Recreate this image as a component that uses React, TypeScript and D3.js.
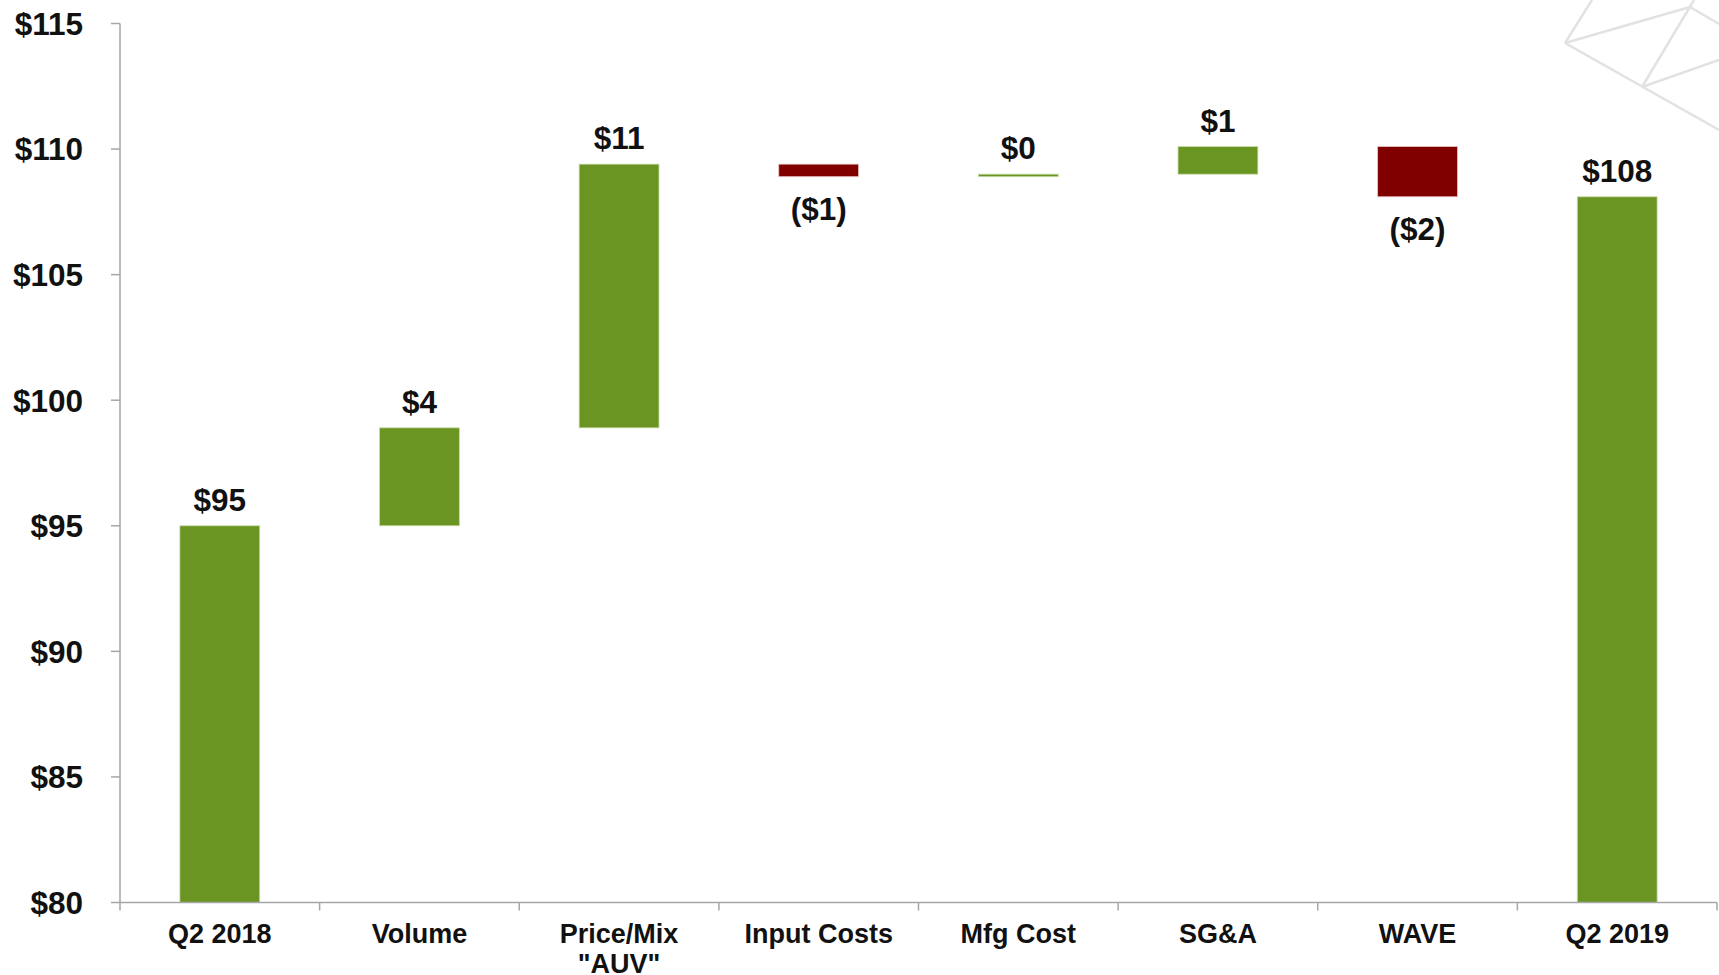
import { useEffect } from 'react';
import * as d3 from 'd3';

const categories = ['Q2 2018', 'Volume', 'Price/Mix\n"AUV"', 'Input Costs', 'Mfg Cost', 'SG&A', 'WAVE', 'Q2 2019'];
const kinds = ['total', 'delta', 'delta', 'delta', 'delta', 'delta', 'delta', 'total'];
const values = [95, 3.9, 10.5, -0.5, 0.1, 1.1, -2.0, 108.1];
const valueLabels = ['$95', '$4', '$11', '($1)', '$0', '$1', '($2)', '$108'];
const yTicks = [80, 85, 90, 95, 100, 105, 110, 115];

const W = 1719;
const H = 975;
const GREEN = '#6a9523';
const RED = '#800000';
const FONT = '"Liberation Sans", Arial, Helvetica, sans-serif';

// faint watermark in the top-right corner (decoration only)
const deco: [number, number, number, number][] = [
  [1565, 43, 1690, 7],
  [1565, 43, 1592, 0],
  [1565, 43, 1719, 130],
  [1642, 87, 1694, 0],
  [1642, 87, 1719, 60],
  [1690, 7, 1719, 24],
];

export default function App() {
  useEffect(() => {
    document.body.style.margin = '0';
  }, []);

  const x = d3.scaleBand<string>().domain(categories).range([120, 1717]).paddingInner(0.6).paddingOuter(0.3);
  const y = d3.scaleLinear().domain([80, 115]).range([902.5, 23.5]);

  // compute waterfall spans
  let running = 0;
  const bars = categories.map((c, i) => {
    let lo: number, hi: number;
    if (kinds[i] === 'total') {
      lo = 80;
      hi = values[i];
      running = values[i];
    } else {
      const start = running;
      running = start + values[i];
      lo = Math.min(start, running);
      hi = Math.max(start, running);
    }
    return { c, lo, hi, v: values[i], label: valueLabels[i], neg: values[i] < 0 };
  });

  const step = x.step();
  const x0 = 120;
  const x1 = 1717;
  const boundaries = d3.range(categories.length + 1).map((i) => x0 + i * step);

  return (
    <svg width={W} height={H} style={{ display: 'block', background: '#fff' }} fontFamily={FONT}>
      <g stroke="#e2e2e2" strokeWidth={2.5} fill="none">
        {deco.map((d, i) => (
          <line key={i} x1={d[0]} y1={d[1]} x2={d[2]} y2={d[3]} />
        ))}
      </g>

      {/* y axis */}
      <line x1={x0} x2={x0} y1={y(115)} y2={y(80)} stroke="#a6a6a6" strokeWidth={1.5} />
      {yTicks.map((t) => (
        <g key={t}>
          <line x1={x0 - 9} x2={x0} y1={y(t)} y2={y(t)} stroke="#a6a6a6" strokeWidth={1.5} />
          <text x={83} y={y(t)} dy="0.36em" textAnchor="end" fontSize={31.5} fontWeight="bold" fill="#111">
            ${t}
          </text>
        </g>
      ))}

      {/* bars */}
      {bars.map((b) => {
        const bx = x(b.c)!;
        const top = y(b.hi);
        const bottom = y(b.lo);
        return (
          <g key={b.c}>
            <rect
              x={bx}
              y={top}
              width={x.bandwidth()}
              height={Math.max(bottom - top, 1)}
              fill={b.neg ? RED : GREEN}
              stroke={b.neg ? '#e8c4c4' : '#c9dca8'}
              strokeWidth={0.8}
            />
            <text
              x={bx + x.bandwidth() / 2}
              y={b.neg ? bottom + 43 : top - 15}
              textAnchor="middle"
              fontSize={31.5}
              fontWeight="bold"
              fill="#111"
            >
              {b.label}
            </text>
          </g>
        );
      })}

      {/* x axis */}
      <line x1={x0} x2={x1} y1={y(80)} y2={y(80)} stroke="#a6a6a6" strokeWidth={1.5} />
      {boundaries.map((bx, i) => (
        <line key={i} x1={bx} x2={bx} y1={y(80)} y2={y(80) + 8} stroke="#a6a6a6" strokeWidth={1.5} />
      ))}
      {categories.map((c) => (
        <text key={c} x={x(c)! + x.bandwidth() / 2} y={943} textAnchor="middle" fontSize={27} fontWeight="bold" fill="#111">
          {c.split('\n').map((line, j) => (
            <tspan key={j} x={x(c)! + x.bandwidth() / 2} dy={j === 0 ? 0 : 30}>
              {line}
            </tspan>
          ))}
        </text>
      ))}
    </svg>
  );
}
